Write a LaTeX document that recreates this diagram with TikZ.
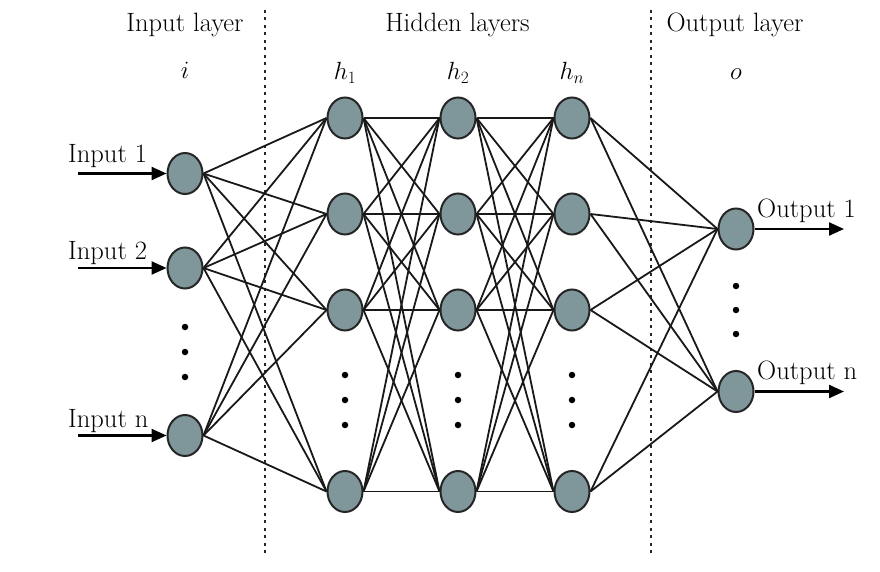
\documentclass[tikz,border=0pt]{standalone}
\usetikzlibrary{arrows.meta,shapes.geometric}
\definecolor{nodefill}{RGB}{127,150,154}
\begin{document}
\begin{tikzpicture}[x=1pt,y=-1pt,
  neuron/.style={shape=ellipse, draw=black!85, line width=2pt, fill=nodefill,
    minimum width=35pt, minimum height=41pt, inner sep=0pt},
  conn/.style={line width=1.8pt, black!90},
  inarrow/.style={line width=2.3pt, -{Triangle[length=15pt,width=13pt]}},
  sep/.style={line width=1.5pt, dash pattern=on 3pt off 4.5pt, black!85},
  lbl/.style={font=\fontsize{26.5}{30}\selectfont, inner sep=0pt},
  dotmark/.style={circle, fill=black, minimum size=6.5pt, inner sep=0pt}
]
\useasboundingbox (0,0) rectangle (880,572);
\fill[white] (0,0) rectangle (880,572);

% separators
\coordinate (d1t) at (265,10);
\coordinate (d1b) at (265,553);
\coordinate (d2t) at (651,10);
\coordinate (d2b) at (651,553);
\draw[sep] (d1t) -- (d1b);
\draw[sep] (d2t) -- (d2b);

% titles
\node[lbl, anchor=base] (tin) at (185,32) {Input layer};
\node[lbl, anchor=base] (thid) at (457.5,32) {Hidden layers};
\node[lbl, anchor=base] (tout) at (735,32) {Output layer};
\node[lbl, anchor=base] (mi) at (185,79) {$i$};
\node[lbl, anchor=base] (mh1) at (345,80) {$h_1$};
\node[lbl, anchor=base] (mh2) at (458,80) {$h_2$};
\node[lbl, anchor=base] (mhn) at (572,80) {$h_n$};
\node[lbl, anchor=base] (mo) at (736,80) {$o$};

% neurons
\foreach \n/\y in {1/173.5,2/268,3/435.5}
  \node[neuron] (i\n) at (185,\y) {};
\foreach \l/\x in {1/345,2/458,3/572}
  \foreach \n/\y in {1/118,2/214,3/310,4/491.5}
    \node[neuron] (h\l\n) at (\x,\y) {};
\node[neuron] (o1) at (736,229) {};
\node[neuron] (o2) at (736,391.5) {};

% connections
\foreach \a in {1,2,3}
  \foreach \b in {1,...,4}
    \draw[conn] (i\a.east) -- (h1\b.west);
\foreach \l/\m in {1/2,2/3}
  \foreach \a in {1,...,4}
    \foreach \b in {1,...,4}
      \draw[conn] (h\l\a.east) -- (h\m\b.west);
\foreach \a in {1,...,4}
  \foreach \b in {1,2}
    \draw[conn] (h3\a.east) -- (o\b.west);

% ellipsis dots
\foreach \y [count=\k] in {327,352,377}
  \node[dotmark] (di\k) at (185,\y) {};
\foreach \l/\x in {1/345,2/458,3/572}
  \foreach \y [count=\k] in {375,400,425}
    \node[dotmark] (dh\l\k) at (\x,\y) {};
\foreach \y [count=\k] in {286,310,334}
  \node[dotmark] (do\k) at (736,\y) {};

% inputs
\coordinate (s1) at (78,173.5);
\coordinate (s2) at (78,268);
\coordinate (s3) at (78,435.5);
\draw[inarrow] (s1) -- (i1.west);
\draw[inarrow] (s2) -- (i2.west);
\draw[inarrow] (s3) -- (i3.west);
\node[lbl, anchor=base west] (l1) at (68,163) {Input 1};
\node[lbl, anchor=base west] (l2) at (68,259) {Input 2};
\node[lbl, anchor=base west] (l3) at (68,427) {Input n};

% outputs
\coordinate (e1) at (844,229);
\coordinate (e2) at (844,391.5);
\draw[inarrow] (o1.east) -- (e1);
\draw[inarrow] (o2.east) -- (e2);
\node[lbl, anchor=base west] (ol1) at (757,217) {Output 1};
\node[lbl, anchor=base west] (ol2) at (757,379) {Output n};
\end{tikzpicture}
\end{document}
